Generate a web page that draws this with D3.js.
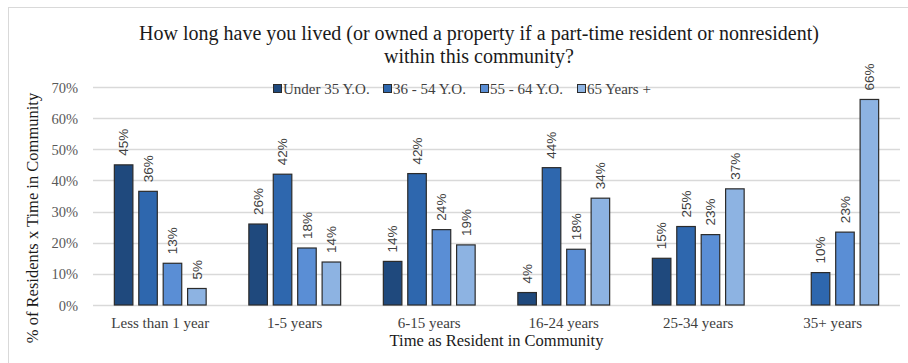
<!DOCTYPE html>
<html>
<head>
<meta charset="utf-8">
<script src="https://cdn.jsdelivr.net/npm/d3@7"></script>
<style>
  html, body { margin: 0; padding: 0; background: #fff; }
  svg { display: block; }
</style>
</head>
<body>
<div id="chart"></div>
<script>
// Data
const categories = ['Less than 1 year', '1-5 years', '6-15 years', '16-24 years', '25-34 years', '35+ years']
const seriesNames = ['Under 35 Y.O.', '36 - 54 Y.O.', '55 - 64 Y.O.', '65 Years +']
const under35 = [0.45, 0.26, 0.14, 0.04, 0.15, null]
const age36to54 = [0.365, 0.42, 0.422, 0.441, 0.252, 0.104]
const age55to64 = [0.134, 0.183, 0.242, 0.179, 0.226, 0.234]
const age65plus = [0.053, 0.138, 0.193, 0.343, 0.373, 0.66]
const labels = [
  ['45%', '26%', '14%', '4%', '15%', null],
  ['36%', '42%', '42%', '44%', '25%', '10%'],
  ['13%', '18%', '24%', '18%', '23%', '23%'],
  ['5%', '14%', '19%', '34%', '37%', '66%']
]
const yTicks = [0, 0.1, 0.2, 0.3, 0.4, 0.5, 0.6, 0.7]

const W = 908, H = 363
const margin = { top: 87, right: 8, bottom: 57, left: 93 }
const COLORS = ['#1F497D', '#2E67AE', '#5A8ED5', '#8DB3E2']
const SERIF = '"Liberation Serif", "DejaVu Serif", serif'
const SANS = '"Liberation Sans", Arial, sans-serif'
const allSeries = [under35, age36to54, age55to64, age65plus]

const svg = d3.select('#chart').append('svg')
  .attr('width', W).attr('height', H)

// Outer frame (only top and left edges visible in reference)
svg.append('line').attr('x1', 8).attr('x2', W).attr('y1', 7.5).attr('y2', 7.5)
  .attr('stroke', '#d9d9d9').attr('stroke-width', 1)
svg.append('line').attr('x1', 8.5).attr('x2', 8.5).attr('y1', 7).attr('y2', H)
  .attr('stroke', '#d9d9d9').attr('stroke-width', 1)

const x0 = d3.scaleBand()
  .domain(categories)
  .range([margin.left, W - margin.right])
  .paddingInner(0.31)
  .paddingOuter(0.155)

const x1 = d3.scaleBand()
  .domain(d3.range(seriesNames.length))
  .range([0, x0.bandwidth()])
  .paddingInner(0.2)

const y = d3.scaleLinear()
  .domain([0, 0.7])
  .range([H - margin.bottom - 1, margin.top])

// Gridlines
svg.append('g').selectAll('line')
  .data(yTicks)
  .join('line')
  .attr('x1', margin.left).attr('x2', W - margin.right)
  .attr('y1', d => Math.round(y(d)) + 0.5).attr('y2', d => Math.round(y(d)) + 0.5)
  .attr('stroke', '#d9d9d9').attr('stroke-width', 1.3)

// Y axis
svg.append('g')
  .attr('transform', `translate(${margin.left - 12},0)`)
  .call(d3.axisLeft(y).tickValues(yTicks).tickFormat(d3.format('.0%')).tickSize(0))
  .call(g => {
    g.select('.domain').remove()
    g.selectAll('.tick text')
      .attr('fill', '#595959').attr('font-size', '14.5px')
      .attr('font-family', SERIF).attr('dy', '0.35em')
  })

// X axis labels
svg.append('g')
  .attr('transform', `translate(0,${H - margin.bottom})`)
  .call(d3.axisBottom(x0).tickSize(0).tickPadding(11))
  .call(g => {
    g.select('.domain').remove()
    g.selectAll('.tick text')
      .attr('fill', '#404040').attr('font-size', '15px')
      .attr('font-family', SERIF)
  })

// Bars
const rows = []
categories.forEach((c, i) => {
  allSeries.forEach((s, k) => {
    if (s[i] != null) rows.push({ cat: c, k, v: s[i], label: labels[k][i] })
  })
})

svg.append('g').selectAll('rect')
  .data(rows)
  .join('rect')
  .attr('x', d => x0(d.cat) + x1(d.k) + 0.5)
  .attr('y', d => y(d.v))
  .attr('width', x1.bandwidth() - 1)
  .attr('height', d => y(0) - y(d.v))
  .attr('fill', d => COLORS[d.k])
  .attr('stroke', '#2b2b2b').attr('stroke-width', 1.2)

// Data labels (rotated)
svg.append('g').selectAll('text')
  .data(rows)
  .join('text')
  .attr('transform', d => `translate(${x0(d.cat) + x1(d.k) + x1.bandwidth() / 2},${y(d.v) - 9}) rotate(-90)`)
  .attr('dy', '0.35em')
  .attr('text-anchor', 'start')
  .attr('fill', '#404040').attr('font-size', '13.5px')
  .attr('font-family', SANS)
  .text(d => d.label)

// Title
const title = svg.append('text')
  .attr('text-anchor', 'middle')
  .attr('fill', '#1a1a1a').attr('font-size', '20px')
  .attr('font-family', SERIF)
title.append('tspan').attr('x', 479).attr('y', 40)
  .text('How long have you lived (or owned a property if a part-time resident or nonresident)')
title.append('tspan').attr('x', 479).attr('y', 63)
  .text('within this community?')

// Legend
const legendX = [273, 383, 480, 577]
const legend = svg.append('g')
seriesNames.forEach((name, k) => {
  const g = legend.append('g').attr('transform', `translate(${legendX[k]},89)`)
  g.append('rect').attr('x', 0.5).attr('y', -4.5).attr('width', 8).attr('height', 8)
    .attr('fill', COLORS[k]).attr('stroke', '#2b2b2b').attr('stroke-width', 1)
  g.append('text').attr('x', 10).attr('y', 0).attr('dy', '0.35em')
    .attr('fill', '#404040').attr('font-size', '15px')
    .attr('font-family', SERIF)
    .text(name)
})

// Axis titles
svg.append('text')
  .attr('x', (margin.left + W - margin.right) / 2).attr('y', 346)
  .attr('text-anchor', 'middle')
  .attr('fill', '#1a1a1a').attr('font-size', '16.5px')
  .attr('font-family', SERIF)
  .text('Time as Resident in Community')

svg.append('text')
  .attr('transform', `translate(38,218) rotate(-90)`)
  .attr('text-anchor', 'middle')
  .attr('fill', '#1a1a1a').attr('font-size', '16.5px')
  .attr('font-family', SERIF)
  .text('% of Residents x Time in Community')
</script>
</body>
</html>
